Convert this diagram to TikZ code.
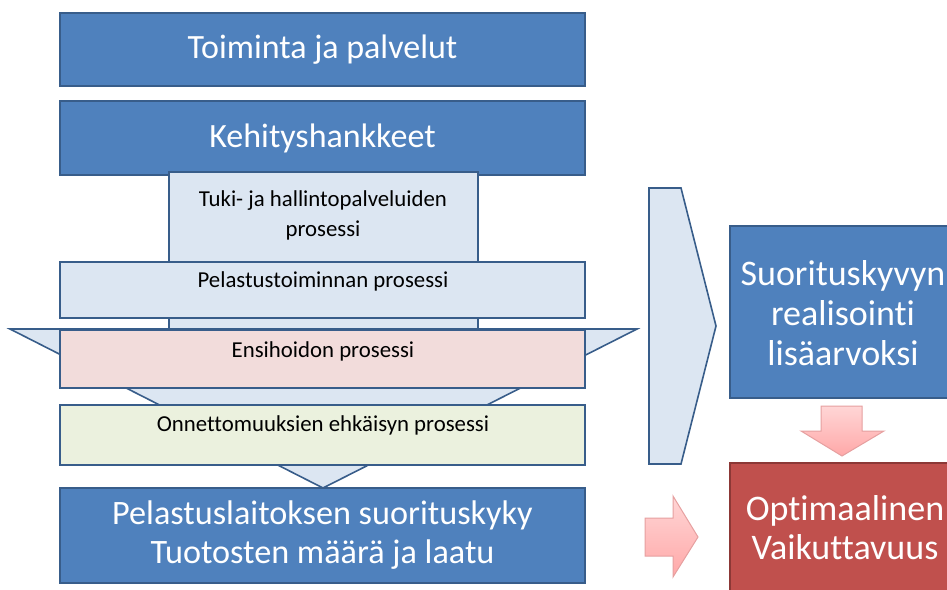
\documentclass[tikz,border=0pt]{standalone}
\usepackage{fontspec}
\setmainfont{Carlito}[Ligatures=NoCommon]
\definecolor{bblue}{HTML}{4F81BD}
\definecolor{bline}{HTML}{385D8A}
\definecolor{lblue}{HTML}{DCE6F2}
\definecolor{lpink}{HTML}{F2DCDB}
\definecolor{lgreen}{HTML}{EBF1DE}
\definecolor{rred}{HTML}{C0504D}
\definecolor{rline}{HTML}{8C3836}
\definecolor{apinktop}{HTML}{FFD6D6}
\definecolor{apinkbot}{HTML}{FFA8A8}
\definecolor{aline}{HTML}{E6A0A0}
\begin{document}
\begin{tikzpicture}[x=1pt,y=-1pt,
  rect/.style={draw=bline,line width=1.6pt,anchor=north west,inner sep=0pt,outer sep=0pt},
  bluebox/.style={rect,fill=bblue,text=white,align=center,font=\fontsize{34}{40}\selectfont},
  lightbox/.style={rect,fill=lblue},
  pinkbox/.style={rect,fill=lpink},
  greenbox/.style={rect,fill=lgreen},
  redbox/.style={rect,draw=rline,fill=rred},
  small/.style={font=\fontsize{22.8}{30}\selectfont,align=center,inner sep=0pt},
  bigwhite/.style={text=white,font=\fontsize{36}{40}\selectfont,align=center,inner sep=0pt},
  blockarrow/.style={draw=aline,line width=1pt,top color=apinktop,bottom color=apinkbot},
  chev/.style={draw=bline,line width=1.6pt,fill=lblue,line join=miter}
]
\useasboundingbox (0,0) rectangle (947,589);
\begin{scope}
\clip (0,0) rectangle (947,589);

% top boxes
\node[bluebox,minimum width=525pt,minimum height=73pt] (top) at (60,13) {Toiminta ja palvelut};
\node[bluebox,minimum width=525pt,minimum height=74pt] (keh) at (60,101) {Kehityshankkeet};

% support column behind
\node[lightbox,minimum width=309pt,minimum height=160pt] (tuki) at (169,172) {};

% funnel triangle
\draw[chev] (10,329) coordinate (tl) -- (637,329) coordinate (tr) -- (323,488) coordinate (tip) -- cycle;

% process boxes
\node[lightbox,minimum width=525pt,minimum height=56pt] (pel) at (60,262) {};
\node[pinkbox,minimum width=525pt,minimum height=58pt] (ens) at (60,330) {};
\node[greenbox,minimum width=525pt,minimum height=60pt] (onn) at (60,405) {};

% texts of process boxes
\node[small] (tukit) at (323,215) {Tuki- ja hallintopalveluiden\\prosessi};
\node[small] (pelt) at (323,281) {Pelastustoiminnan prosessi};
\node[small] (enst) at (323,351) {Ensihoidon prosessi};
\node[small] (onnt) at (323,425) {Onnettomuuksien ehkäisyn prosessi};

% bottom box
\node[bluebox,minimum width=525pt,minimum height=95pt,font=\fontsize{34.2}{39}\selectfont] (suo) at (60,488) {Pelastuslaitoksen suorituskyky\\Tuotosten määrä ja laatu};

% chevron
\draw[chev] (649,188) coordinate (c1) -- (681,188) -- (716,326) coordinate (ctip) -- (681,464) -- (649,464) -- cycle;

% right boxes
\node[bluebox,minimum width=225pt,minimum height=172pt] (real) at (730,226) {};
\node[bigwhite] (realt) at (843,313) {Suorituskyvyn\\realisointi\\lisäarvoksi};
\node[redbox,minimum width=225pt,minimum height=135pt] (opt) at (730,463) {};
\node[bigwhite,font=\fontsize{36}{39}\selectfont] (optt) at (845,528) {Optimaalinen\\Vaikuttavuus};

% block arrows
\draw[blockarrow] (821,406) -- (862,406) -- (862,431) -- (884,431) -- (842,456) coordinate (dtip) -- (801,431) -- (821,431) -- cycle;
\draw[blockarrow] (645,518) -- (673,518) -- (673,496) -- (698,537) coordinate (rtip) -- (673,577) -- (673,556) -- (645,556) -- cycle;
\end{scope}
\end{tikzpicture}
\end{document}
